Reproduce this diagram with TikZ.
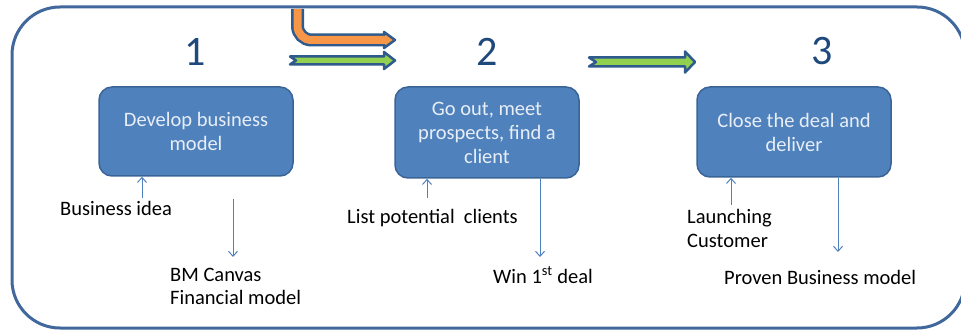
\documentclass[tikz,border=0pt]{standalone}
\usepackage{fontspec}
\setmainfont{Carlito}
\usetikzlibrary{arrows.meta}
\definecolor{boxfill}{HTML}{4F81BD}
\definecolor{boxline}{HTML}{3A6496}
\definecolor{framecol}{HTML}{41689C}
\definecolor{numcol}{HTML}{1F497D}
\definecolor{arrgreen}{HTML}{92D050}
\definecolor{arrorange}{HTML}{F79646}
\definecolor{arrline}{HTML}{2E5A8E}
\definecolor{thincol}{HTML}{4F81BD}
\definecolor{boxtext}{HTML}{E8EEF6}
\begin{document}
\begin{tikzpicture}[x=1pt,y=-1pt,
  stepbox/.style={draw=boxline, line width=1.5pt, fill=boxfill, rounded corners=13pt,
    text=boxtext, align=center, font=\fontsize{20.5}{24}\selectfont, inner sep=0},
  lbl/.style={anchor=north west, inner sep=0, align=left, text=black,
    font=\fontsize{20.5}{23.5}\selectfont},
  num/.style={text=numcol, font=\fontsize{42}{42}\selectfont, inner sep=0},
  thinarrow/.style={draw=thincol, line width=1pt, -{Straight Barb[length=5pt,width=9pt]}},
  fatarrow/.style={fill=arrgreen, draw=arrline, line width=2.5pt, line join=round}]
\useasboundingbox (0,0) rectangle (961,331);
\clip (0,0) rectangle (961,331);
% outer frame
\draw[framecol, line width=3pt, rounded corners=48pt] (12,7) rectangle (965,328);

% orange bent arrow
\draw[arrline, line width=13pt, rounded corners=14pt] (297.5,9) -- (297.5,40) -- (387,40);
\draw[fill=arrorange, draw=arrline, line width=2.5pt, line join=round]
  (384,32) -- (395,40) -- (384,48) -- cycle;
\draw[arrorange, line width=8pt, rounded corners=14pt] (297.5,9) -- (297.5,40) -- (386,40);

% green arrows
\draw[fatarrow] (290,56.5) -- (384,56.5) -- (384,52) -- (395,60.5) -- (384,69) -- (384,64.5)
  -- (290,64.5) -- (296,60.5) -- cycle;
\draw[fatarrow] (589,57.5) -- (685,57.5) -- (685,51.5) -- (695,62) -- (685,72.5) -- (685,66.5)
  -- (589,66.5) -- (596,62) -- cycle;

% numbers
\node[num] (n1) at (195,51.5) {1};
\node[num] (n2) at (487,51.5) {2};
\node[num] (n3) at (822,51.5) {3};

% boxes
\node[stepbox, minimum width=194pt, minimum height=89pt] (b1) at (196,131.5)
  {Develop business\\model};
\node[stepbox, minimum width=184pt, minimum height=91pt] (b2) at (487,132.5)
  {Go out, meet\\prospects, find a\\client};
\node[stepbox, minimum width=194pt, minimum height=90pt] (b3) at (794,132)
  {Close the deal and\\deliver};

% labels
\node[lbl] (l1) at (60,201.5) {Business idea};
\node[lbl] (l2) at (170,267.5) {BM Canvas\\Financial model};
\node[lbl] (l3) at (347,209.5) {List potential\ \ clients};
\node[lbl] (l4) at (493,266.5) {Win 1\textsuperscript{st} deal};
\node[lbl] (l5) at (687,209.5) {Launching\\Customer};
\node[lbl] (l6) at (724,270.5) {Proven Business model};

% arrow ends
\coordinate (u1) at (142,198);
\coordinate (d1s) at (233,199);
\coordinate (d1e) at (233,257);
\coordinate (u2) at (427,198);
\coordinate (d2e) at (540,257);
\coordinate (u3) at (731,205);
\coordinate (d3e) at (838,252);

\draw[thinarrow] (u1) -- (u1 |- b1.south);
\draw[thinarrow] (d1s) -- (d1e);
\draw[thinarrow] (u2) -- (u2 |- b2.south);
\draw[thinarrow] (d2e |- b2.south) -- (d2e);
\draw[thinarrow] (u3) -- (u3 |- b3.south);
\draw[thinarrow] (d3e |- b3.south) -- (d3e);
\end{tikzpicture}
\end{document}
